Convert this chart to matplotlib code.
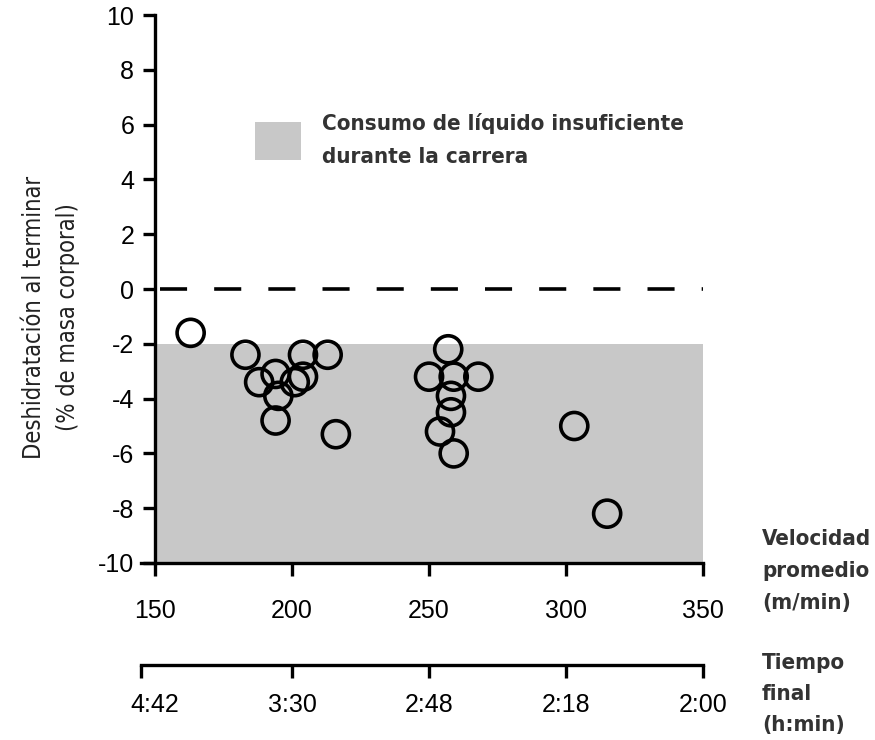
import matplotlib.pyplot as plt
from matplotlib.patches import Patch

# ==== Data ====
velocidad = [163, 183, 188, 194, 195, 194, 201, 204, 204, 213, 216,
             250, 257, 259, 258, 258, 254, 259, 268, 303, 315]
deshidratacion = [-1.6, -2.4, -3.4, -3.1, -3.9, -4.8, -3.4, -2.4, -3.2, -2.4, -5.3,
                  -3.2, -2.2, -3.2, -3.9, -4.5, -5.2, -6.0, -3.2, -5.0, -8.2]
vel_ticks = [150, 200, 250, 300, 350]
tiempo_labels = ["4:42", "3:30", "2:48", "2:18", "2:00"]
y_ticks = [10, 8, 6, 4, 2, 0, -2, -4, -6, -8, -10]
zona_insuficiente = (-10, -2)

GRIS = "#c8c8c8"
COND = dict(family="DejaVu Sans", stretch="condensed")

fig = plt.figure(figsize=(8.75, 7.4), dpi=100)
ax = fig.add_axes([0.1615, 0.2392, 0.642, 0.7405])

# zona gris
ax.axhspan(zona_insuficiente[0], zona_insuficiente[1], xmin=5 / 205, xmax=1,
           color=GRIS, lw=0, zorder=0)
# linea de referencia en 0
ax.plot([152, 350], [0, 0], color="black", lw=2.6, dashes=(7.5, 7.5), zorder=2)
# puntos
ax.scatter(velocidad, deshidratacion, s=380, facecolors="none",
           edgecolors="black", linewidths=2.6, zorder=3)

ax.set_xlim(145, 350)
ax.set_ylim(-10, 10)
ax.spines["top"].set_visible(False)
ax.spines["right"].set_visible(False)
ax.spines["left"].set_position(("data", 150))
for s in ("left", "bottom"):
    ax.spines[s].set_linewidth(2.4)
ax.set_xticks(vel_ticks)
ax.set_yticks(y_ticks)
ax.set_yticklabels([str(v) for v in y_ticks])
ax.tick_params(axis="both", direction="out", length=9, width=2.4,
               labelsize=18, pad=6)
ax.tick_params(axis="x", pad=17)
for lab in ax.get_xticklabels() + ax.get_yticklabels():
    lab.set_family("Liberation Sans")

ax.set_ylabel("Deshidratación al terminar\n(% de masa corporal)",
              fontsize=17, color="#222222", linespacing=1.55, **COND)
ax.yaxis.set_label_coords(-0.109, 0.449)

leg = ax.legend(handles=[Patch(facecolor=GRIS, edgecolor="none")],
                labels=["Consumo de líquido insuficiente\ndurante la carrera"],
                loc="upper left", bbox_to_anchor=(0.186, 0.838), frameon=False,
                handlelength=2.1, handleheight=2.2, handletextpad=0.95,
                borderaxespad=0,
                prop=dict(size=16, weight="bold", **COND))
for t in leg.get_texts():
    t.set_color("#333333")
    t.set_linespacing(1.85)

fig.text(0.871, 0.229, "Velocidad\npromedio\n(m/min)", fontsize=16,
         weight="bold", color="#333333", va="center", ha="left",
         linespacing=1.75, **COND)

# ==== Eje de tiempo ====
ax2 = fig.add_axes([0.1615, 0.1014, 0.642, 0.001])
ax2.set_xlim(145, 350)
ax2.set_ylim(0, 1)
for s in ("top", "left", "right"):
    ax2.spines[s].set_visible(False)
ax2.spines["bottom"].set_linewidth(2.4)
ax2.set_yticks([])
ax2.xaxis.remove_overlapping_locs = False
ax2.set_xticks([145] + vel_ticks[1:])
ax2.set_xticklabels([])
ax2.set_xticks(vel_ticks, minor=True)
ax2.set_xticklabels(tiempo_labels, minor=True)
ax2.tick_params(axis="x", which="major", direction="out", length=9, width=2.4)
ax2.tick_params(axis="x", which="minor", length=0, labelsize=18, pad=20)
for lab in ax2.get_xticklabels(minor=True):
    lab.set_family("Liberation Sans")

fig.text(0.871, 0.062, "Tiempo\nfinal\n(h:min)", fontsize=16,
         weight="bold", color="#333333", va="center", ha="left",
         linespacing=1.7, **COND)

plt.savefig("out.png", dpi=100)
plt.close()
